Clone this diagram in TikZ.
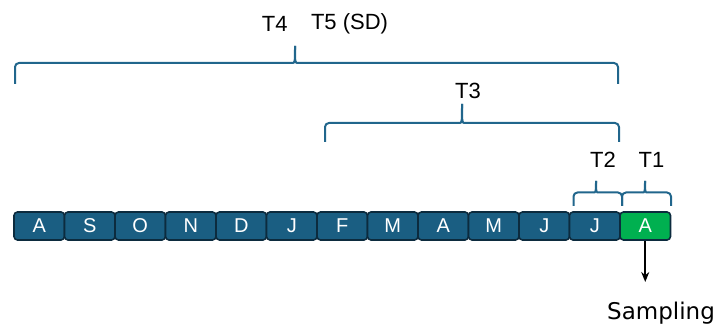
\documentclass[tikz,border=0pt]{standalone}
\usepackage{fontspec}
\setmainfont{Liberation Sans}
\newfontfamily\sampfont{DejaVu Sans}
\usetikzlibrary{arrows.meta}
\definecolor{boxblue}{HTML}{1A5E82}
\definecolor{boxedge}{HTML}{0C2B3E}
\definecolor{boxgreen}{HTML}{00B050}
\definecolor{bracecol}{HTML}{21668C}
\tikzset{
  month/.style={draw=boxedge, line width=1.6pt, fill=boxblue, rounded corners=3.5pt,
    minimum width=50.5pt, minimum height=28pt, inner sep=0pt, text=white,
    font=\fontsize{20}{20}\selectfont},
  monthgreen/.style={month, fill=boxgreen},
  brc/.style={draw=bracecol, line width=2pt},
  lbl/.style={font=\fontsize{22}{22}\selectfont, inner sep=0pt, text=black},
}
\newcommand{\tbrace}[6]{% x1, x2, xtip, ybottom, yline, ytip
  \draw[brc, rounded corners=4pt] (#1,#4) -- (#1,#5) -- (#3-3,#5);
  \draw[brc] (#3-3,#5) .. controls (#3,#5) .. (#3,#6);
  \draw[brc] (#3,#6) .. controls (#3,#5) .. (#3+3,#5);
  \draw[brc, rounded corners=4pt] (#3+3,#5) -- (#2,#5) -- (#2,#4);
}
\begin{document}
\begin{tikzpicture}[x=1pt,y=-1pt]
\useasboundingbox (0,0) rectangle (716,328);
% months
\foreach \m [count=\i] in {A,S,O,N,D,J,F,M,A,M,J,J}{
  \node[month] (b\i) at ({14+50.5*(\i-0.5)},226) {\m};
}
\node[monthgreen] (b13) at ({14+50.5*12.5},226) {A};
% braces
\tbrace{15}{618}{295}{84}{63}{46}
\tbrace{325}{619}{462}{142}{123}{104}
\tbrace{573.5}{622}{596}{206}{192.5}{181}
\tbrace{622}{671}{645}{206}{192.5}{181}
% labels
\node[lbl] (t4) at (274.7,24) {T4};
\node[lbl] (t5) at (349.5,24) {T5 (SD)};
\node[lbl] (t3) at (468,91) {T3};
\node[lbl] (t2) at (603,160) {T2};
\node[lbl] (t1) at (651.5,160) {T1};
% sampling
\coordinate (aend) at (b13.south |- 0,282);
\draw[line width=2pt, -{Stealth[length=10pt,width=8pt]}] (b13.south) -- (aend);
\node[font=\sampfont\fontsize{23}{23}\selectfont, inner sep=0pt] (samp) at (661,313) {Sampling};
\end{tikzpicture}
\end{document}
